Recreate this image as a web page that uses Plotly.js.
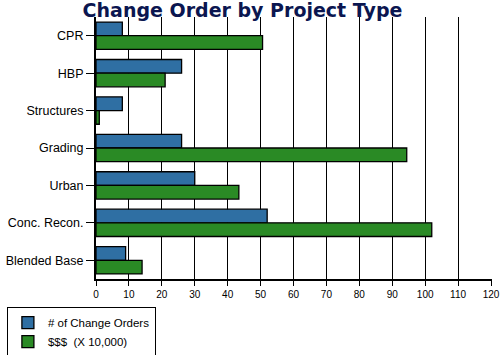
<!DOCTYPE html>
<html>
<head>
<meta charset="utf-8">
<script src="https://cdn.plot.ly/plotly-3.0.1.min.js"></script>
<style>html,body{margin:0;padding:0;background:#fff;}#chart{width:500px;height:355px;}</style>
</head>
<body>
<div id="chart"></div>
<script>
const categories = ["CPR", "HBP", "Structures", "Grading", "Urban", "Conc. Recon.", "Blended Base"];
const changeOrders = [8, 26, 8, 26, 30, 52, 9];
const dollars = [50.6, 21, 1, 94.4, 43.4, 102, 14];
const seriesNames = ["# of Change Orders", "$$$  (X 10,000)"];
const xTicks = [0, 10, 20, 30, 40, 50, 60, 70, 80, 90, 100, 110, 120];

const traces = [
  {type: "bar", orientation: "h", y: categories, x: changeOrders, name: seriesNames[0],
   marker: {color: "#2f6fa3", line: {color: "#000", width: 1.3}}},
  {type: "bar", orientation: "h", y: categories, x: dollars, name: seriesNames[1],
   marker: {color: "#2a8a25", line: {color: "#000", width: 1.3}}}
];

const layout = {
  width: 500, height: 355,
  margin: {l: 96, r: 8, t: 17, b: 76, pad: 0, autoexpand: false},
  paper_bgcolor: "#fff", plot_bgcolor: "#fff",
  barmode: "group", bargap: 0.27, bargroupgap: 0,
  font: {family: "Liberation Sans, Arial, sans-serif", color: "#000"},
  title: {text: "<b>Change Order by Project Type</b>", x: 0.485, xanchor: "center", yref: "container", y: 0.972, yanchor: "middle",
          font: {family: "DejaVu Sans, sans-serif", size: 19, color: "#0b1650"}},
  xaxis: {range: [0, 120.3], tickvals: xTicks, ticktext: xTicks.map(String),
          showgrid: true, gridcolor: "#000", gridwidth: 1,
          showline: true, linecolor: "#000", linewidth: 2,
          ticks: "outside", ticklen: 5, tickwidth: 1, tickcolor: "#000",
          tickfont: {size: 10}, zeroline: false, fixedrange: true},
  yaxis: {autorange: "reversed", showline: true, linecolor: "#000", linewidth: 2,
          ticks: "outside", ticklen: 8, tickwidth: 1, tickcolor: "#000",
          tickfont: {size: 12.5}, showgrid: false, fixedrange: true},
  showlegend: true,
  legend: {x: -0.225, xanchor: "left", y: -0.107, yanchor: "top", traceorder: "normal",
           bordercolor: "#000", borderwidth: 1, bgcolor: "#fff",
           font: {size: 11.5}, tracegroupgap: 0, itemwidth: 30, entrywidth: 128}
};

Plotly.newPlot("chart", traces, layout, {displayModeBar: false, staticPlot: true});
</script>
</body>
</html>
